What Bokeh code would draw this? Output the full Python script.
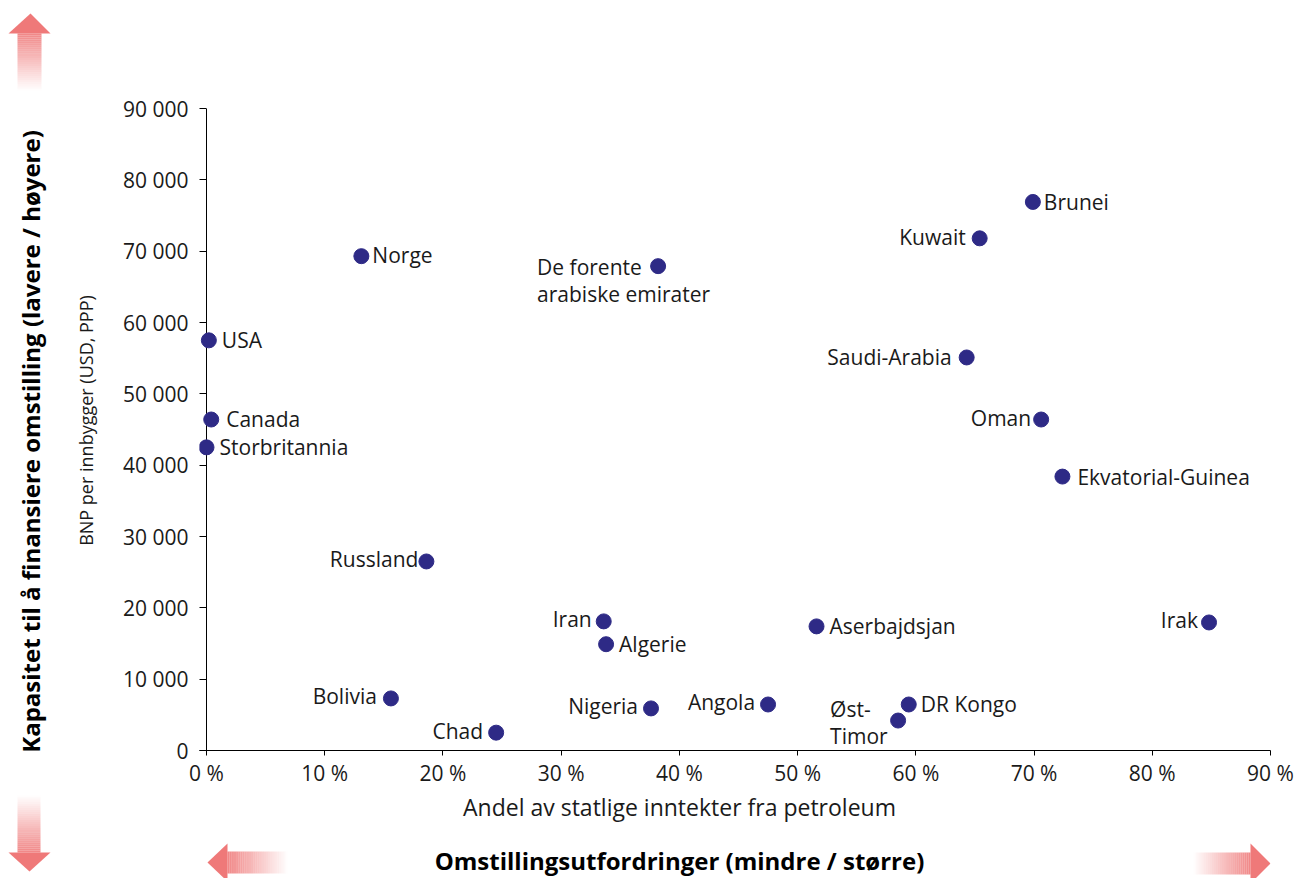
from bokeh.plotting import figure
from bokeh.layouts import row, column
from bokeh.models import ColumnDataSource, LabelSet, Span, FixedTicker, Range1d
from bokeh.core.properties import value
from bokeh.embed import file_html
from bokeh.resources import INLINE

# ---------------- data ----------------
countries = ["Brunei", "Kuwait", "Norge", "De forente\narabiske emirater", "USA",
             "Saudi-Arabia", "Canada", "Oman", "Storbritannia", "Ekvatorial-Guinea",
             "Russland", "Iran", "Irak", "Aserbajdsjan", "Algerie", "Bolivia",
             "DR Kongo", "Angola", "Nigeria", "Øst-\nTimor", "Chad"]
petroleum_share = [69.9, 65.4, 13.1, 38.2, 0.2, 64.3, 0.4, 70.6, 0.0, 72.4,
                   18.6, 33.6, 84.8, 51.6, 33.8, 15.6, 59.4, 47.5, 37.6, 58.5, 24.5]
gdp_per_capita = [76900, 71800, 69300, 67900, 57500, 55100, 46400, 46400, 42500, 38400,
                  26500, 18100, 17950, 17400, 14900, 7300, 6450, 6450, 5900, 4200, 2500]

x_ticks = [0, 10, 20, 30, 40, 50, 60, 70, 80, 90]
x_tick_labels = ["0 %", "10 %", "20 %", "30 %", "40 %", "50 %", "60 %", "70 %", "80 %", "90 %"]
y_ticks = [0, 10000, 20000, 30000, 40000, 50000, 60000, 70000, 80000, 90000]
y_tick_labels = ["0", "10 000", "20 000", "30 000", "40 000", "50 000",
                 "60 000", "70 000", "80 000", "90 000"]

x_title = "Andel av statlige inntekter fra petroleum"
y_title = "BNP per innbygger (USD, PPP)"
x_theme = "Omstillingsutfordringer (mindre / større)"
y_theme = "Kapasitet til å finansiere omstilling (lavere / høyere)"

# label placement (screen px offsets, alignment)
label_place = {
    "Brunei": (11, 0, "left"), "Kuwait": (-14, 1, "right"), "Norge": (11, 1, "left"),
    "De forente\narabiske emirater": (-121, -14, "left"), "USA": (13, 0, "left"),
    "Saudi-Arabia": (-15, 0, "right"), "Canada": (15, 1, "left"), "Oman": (-10, 2, "right"),
    "Storbritannia": (13, 0, "left"), "Ekvatorial-Guinea": (15, 0, "left"),
    "Russland": (-8, 2, "right"), "Iran": (-12, 2, "right"), "Irak": (-11, 2, "right"),
    "Aserbajdsjan": (13, 0, "left"), "Algerie": (13, 0, "left"), "Bolivia": (-14, 2, "right"),
    "DR Kongo": (12, 0, "left"), "Angola": (-13, 2, "right"), "Nigeria": (-13, 2, "right"),
    "Øst-\nTimor": (-68, -2, "left"), "Chad": (-13, 2, "right"),
}

FONT = "Open Sans"
TXT = "#1a1a1a"
DOT = "#2e2a86"
ARROW = "#ee7272"

# ---------------- layout geometry ----------------
TOT_W, TOT_H = 1294, 878
LEFT_W = 100
MAIN_H = 790
MAIN_W = TOT_W - LEFT_W
FRAME_L, FRAME_R, FRAME_T, FRAME_B = 199, 1270, 108, 750
x_start = -(206 - FRAME_L) * 90.0 / (FRAME_R - 206)


def blank(width, height, xr, yr):
    f = figure(width=width, height=height, x_range=xr, y_range=yr,
               output_backend="svg", toolbar_location=None,
               min_border=0, min_border_left=0, min_border_right=0,
               min_border_top=0, min_border_bottom=0)
    f.axis.visible = False
    f.grid.visible = False
    f.outline_line_color = None
    return f


# ---------------- main chart ----------------
p = figure(width=MAIN_W, height=MAIN_H, output_backend="svg", toolbar_location=None,
           x_range=Range1d(x_start, 90), y_range=Range1d(0, 90000),
           min_border_left=FRAME_L - LEFT_W, min_border_right=TOT_W - FRAME_R,
           min_border_top=FRAME_T, min_border_bottom=MAIN_H - FRAME_B)
p.outline_line_color = None
p.xgrid.visible = False
p.ygrid.visible = False

p.xaxis.ticker = FixedTicker(ticks=x_ticks)
p.xaxis.major_label_overrides = dict(zip(x_ticks, x_tick_labels))
p.yaxis.ticker = FixedTicker(ticks=y_ticks)
p.yaxis.major_label_overrides = dict(zip(y_ticks, y_tick_labels))
for ax in (p.xaxis, p.yaxis):
    ax.minor_tick_line_color = None
    ax.major_label_text_font = FONT
    ax.major_label_text_font_size = "21px"
    ax.major_label_text_color = TXT
    ax.major_tick_line_color = "black"
    ax.axis_line_color = "black"
p.xaxis.major_tick_out = 5
p.xaxis.major_tick_in = 0
p.xaxis.major_label_standoff = 3
p.yaxis.axis_line_color = None
p.yaxis.major_tick_out = 0
p.yaxis.major_tick_in = 7
p.yaxis.major_label_standoff = 11

p.add_layout(Span(location=0, dimension="height", line_color="black",
                  line_width=1, level="underlay"))

src = ColumnDataSource(dict(
    x=petroleum_share, y=gdp_per_capita, name=countries,
    dx=[label_place[c][0] for c in countries],
    dy=[label_place[c][1] for c in countries],
    align=[label_place[c][2] for c in countries],
))
p.scatter("x", "y", source=src, size=15, fill_color=DOT, line_color=DOT)
p.add_layout(LabelSet(x="x", y="y", text="name", source=src, x_offset="dx", y_offset="dy",
                      text_align="align", text_baseline="middle", text_font=value(FONT),
                      text_font_size="21px", text_color=TXT, text_line_height=0.96))

# ---------------- left strip (image coordinates) ----------------
lf = blank(LEFT_W, TOT_H, Range1d(0, LEFT_W), Range1d(TOT_H, 0))
lf.text(x=[30], y=[441], text=[y_theme], angle=1.5707963, text_align="center",
        text_baseline="middle", text_font=value(FONT), text_font_size="24px",
        text_font_style="bold", text_color="black")
lf.text(x=[85], y=[420], text=[y_title], angle=1.5707963, text_align="center",
        text_baseline="middle", text_font=value(FONT), text_font_size="18px",
        text_color=TXT)

# ---------------- bottom strip (frame aligned with the main chart's frame) ----------------
bf = blank(MAIN_W, TOT_H - MAIN_H, Range1d(FRAME_L, FRAME_R), Range1d(TOT_H, MAIN_H))
bf.text(x=[679], y=[806], text=[x_title], text_align="center", text_baseline="middle",
        text_font=value(FONT), text_font_size="23px", text_color=TXT)
bf.text(x=[679], y=[860], text=[x_theme], text_align="center", text_baseline="middle",
        text_font=value(FONT), text_font_size="24px", text_font_style="bold",
        text_color="black")

N = 28


def vshaft(f, x0, x1, y_head, y_tail):
    tops, bots, alphas = [], [], []
    for i in range(N):
        a0 = y_head + (y_tail - y_head) * i / N
        a1 = y_head + (y_tail - y_head) * (i + 1) / N
        tops.append(a0)
        bots.append(a1)
        alphas.append(0.85 * (1 - (i + 0.5) / N))
    f.quad(left=x0, right=x1, top=tops, bottom=bots, fill_color=ARROW,
           fill_alpha=alphas, line_color=None)


def hshaft(f, y0, y1, x_head, x_tail):
    ls, rs, alphas = [], [], []
    for i in range(N):
        a0 = x_head + (x_tail - x_head) * i / N
        a1 = x_head + (x_tail - x_head) * (i + 1) / N
        ls.append(a0)
        rs.append(a1)
        alphas.append(0.85 * (1 - (i + 0.5) / N))
    f.quad(left=ls, right=rs, top=y0, bottom=y1, fill_color=ARROW,
           fill_alpha=alphas, line_color=None)


# up / down arrows
lf.patch([8, 30, 50], [33, 13, 33], fill_color=ARROW, fill_alpha=0.95, line_color=None)
vshaft(lf, 17, 41, 33, 90)
lf.patch([8, 29, 50], [852, 871, 852], fill_color=ARROW, fill_alpha=0.95, line_color=None)
vshaft(lf, 17, 40, 852, 795)
# left / right arrows
bf.patch([227, 207, 227], [843, 862, 881], fill_color=ARROW, fill_alpha=0.95, line_color=None)
hshaft(bf, 851, 873, 227, 287)
bf.patch([1250, 1270, 1250], [843, 863, 883], fill_color=ARROW, fill_alpha=0.95, line_color=None)
hshaft(bf, 852, 874, 1250, 1193)

layout = row(lf, column(p, bf, spacing=0), spacing=0)
open("out.html", "w").write(file_html(layout, INLINE))
